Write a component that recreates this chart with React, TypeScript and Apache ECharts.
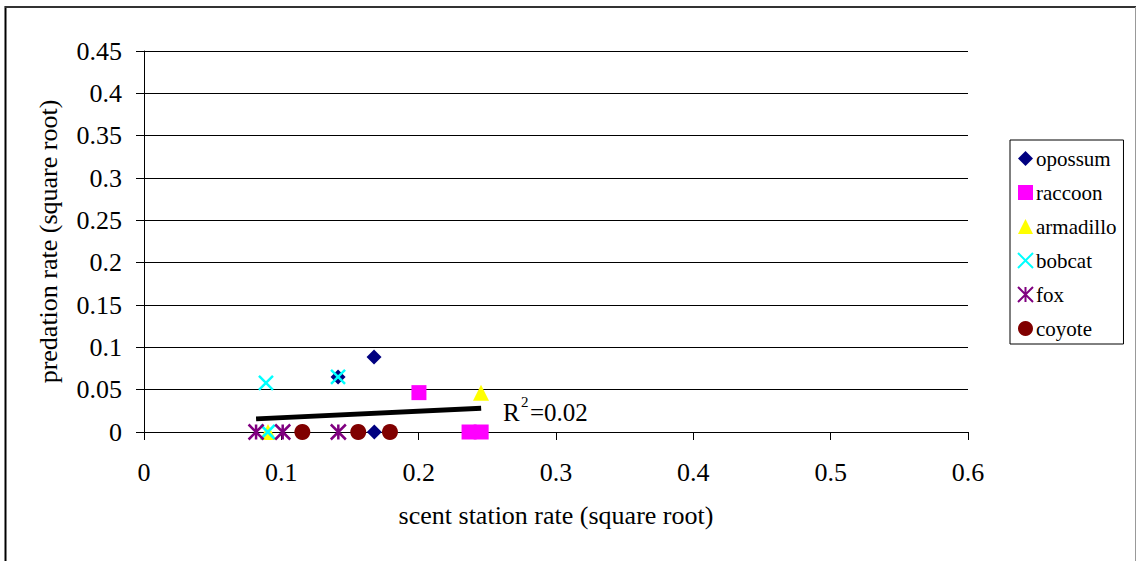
import React, { useEffect, useRef } from "react";
import * as echarts from "echarts";

const seriesNames = ["opossum", "raccoon", "armadillo", "bobcat", "fox", "coyote"];
const opossum = [[0.1413, 0.065], [0.1675, 0.0886], [0.1677, 0]];
const raccoon = [[0.2002, 0.0465], [0.2367, 0], [0.2455, 0]];
const armadillo = [[0.2454, 0.0465], [0.0903, 0]];
const bobcat = [[0.0888, 0.0579], [0.1413, 0.065], [0.0901, 0]];
const fox = [[0.0816, 0], [0.101, 0], [0.1415, 0]];
const coyote = [[0.1153, 0], [0.156, 0], [0.1791, 0]];
const trendline = [[0.0816, 0.0155], [0.2455, 0.028]];
const r2Label = "=0.02";

const FONT = "Liberation Serif";

export default function App() {
  const ref = useRef<HTMLDivElement>(null);
  useEffect(() => {
    document.body.style.margin = "0";
    const chart = echarts.init(ref.current!, null, { renderer: "svg" });
    const crossPath = "path://M0 0L10 10M10 0L0 10";
    const starPath = "path://M0 0L10 10M10 0L0 10M5 0L5 10";
    const scatter = (name: string, data: number[][], symbol: string, color: string, size: number, stroke = false) => ({
      name,
      type: "scatter",
      data,
      symbol,
      symbolSize: size,
      itemStyle: stroke
        ? { color: "rgba(0,0,0,0)", borderColor: color, borderWidth: 2.5, opacity: 1 }
        : { color, opacity: 1 },
      emphasis: { disabled: true },
    });
    chart.setOption({
      animation: false,
      textStyle: { fontFamily: FONT },
      grid: { left: 144, right: 168, top: 51, bottom: 129 },
      xAxis: {
        type: "value",
        min: 0,
        max: 0.6,
        interval: 0.1,
        name: "scent station rate (square root)",
        nameLocation: "middle",
        nameGap: 70,
        nameTextStyle: { fontFamily: FONT, fontSize: 26, color: "#000" },
        axisLine: { lineStyle: { color: "#000", width: 1 } },
        axisTick: { show: true, length: 8, inside: false, lineStyle: { color: "#000" } },
        axisLabel: { fontFamily: FONT, fontSize: 26, color: "#000", margin: 27 },
        splitLine: { show: false },
      },
      yAxis: {
        type: "value",
        min: 0,
        max: 0.45,
        interval: 0.05,
        name: "predation rate (square root)",
        nameLocation: "middle",
        nameRotate: 90,
        nameGap: 83,
        nameTextStyle: { fontFamily: FONT, fontSize: 26, color: "#000" },
        axisLine: { show: true, lineStyle: { color: "#000", width: 1 } },
        axisTick: { show: true, length: 8, lineStyle: { color: "#000" } },
        axisLabel: { fontFamily: FONT, fontSize: 26, color: "#000", margin: 22 },
        splitLine: { show: true, lineStyle: { color: "#000", width: 1 } },
      },
      legend: {
        orient: "vertical",
        left: 1010,
        top: 140,
        data: seriesNames,
        selectedMode: false,
        itemWidth: 15,
        itemHeight: 15,
        itemGap: 13,
        padding: [8, 7, 5, 7],
        borderColor: "#000",
        borderWidth: 1,
        textStyle: { fontFamily: FONT, fontSize: 21, color: "#000", padding: [0, 0, 0, -2] },
      },
      series: [
        {
          name: "trend",
          type: "line",
          data: trendline,
          symbol: "none",
          silent: true,
          lineStyle: { color: "#000", width: 5 },
          z: 1,
        },
        scatter("opossum", opossum, "diamond", "#000080", 15),
        scatter("raccoon", raccoon, "rect", "#FF00FF", 15),
        scatter("armadillo", armadillo, "triangle", "#FFFF00", 16),
        scatter("bobcat", bobcat, crossPath, "#00FFFF", 14, true),
        scatter("fox", fox, starPath, "#800080", 15, true),
        scatter("coyote", coyote, "circle", "#800000", 16),
      ],
      graphic: [
        { type: "line", shape: { x1: 5.5, y1: 6, x2: 5.5, y2: 561 }, style: { stroke: "#000", lineWidth: 2 } },
        { type: "line", shape: { x1: 5, y1: 7, x2: 1136, y2: 7 }, style: { stroke: "#333", lineWidth: 2 } },
        { type: "line", shape: { x1: 1135.5, y1: 7, x2: 1135.5, y2: 561 }, style: { stroke: "#999", lineWidth: 1 } },
        { type: "text", left: 503, top: 400, style: { text: "R", fontFamily: FONT, fontSize: 25, fill: "#000" } },
        { type: "text", left: 521, top: 394, style: { text: "2", fontFamily: FONT, fontSize: 15, fill: "#000" } },
        { type: "text", left: 530, top: 400, style: { text: r2Label, fontFamily: FONT, fontSize: 25, fill: "#000" } },
      ],
    });
    return () => chart.dispose();
  }, []);
  return <div ref={ref} style={{ width: 1136, height: 561 }} />;
}
